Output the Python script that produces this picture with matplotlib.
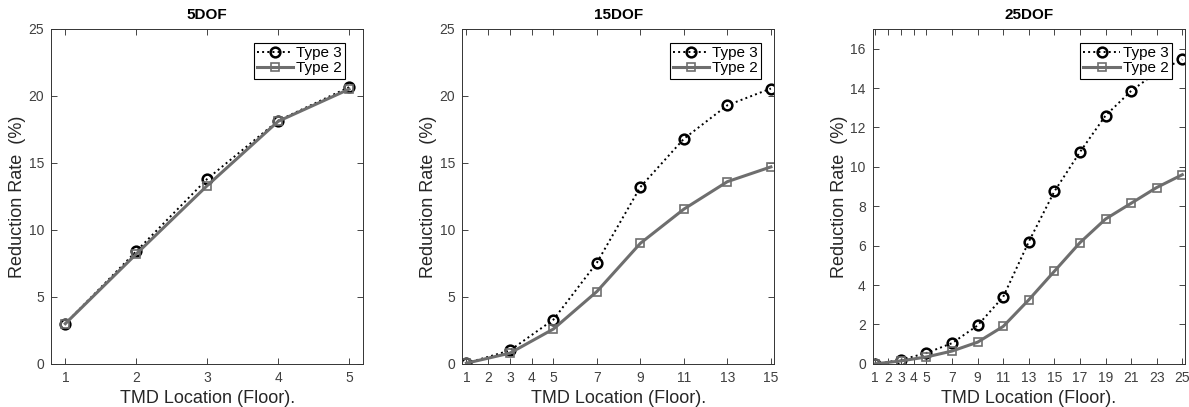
import numpy as np
import matplotlib
matplotlib.use("Agg")
import matplotlib.pyplot as plt

plt.rcParams['font.family'] = ['Liberation Sans', 'DejaVu Sans']

# --- data ---
titles = ["5DOF", "15DOF", "25DOF"]

x5 = [1, 2, 3, 4, 5]
t3_5 = [3.0, 8.4, 13.8, 18.15, 20.65]
t2_5 = [3.0, 8.2, 13.3, 18.1, 20.5]
ticks5 = [1, 2, 3, 4, 5]

x15 = [1, 3, 5, 7, 9, 11, 13, 15]
t3_15 = [0.05, 1.0, 3.3, 7.55, 13.2, 16.8, 19.3, 20.55]
t2_15 = [0.05, 0.8, 2.6, 5.4, 9.0, 11.55, 13.6, 14.7]
ticks15 = [1, 2, 3, 4, 5, 7, 9, 11, 13, 15]

x25 = [1, 3, 5, 7, 9, 11, 13, 15, 17, 19, 21, 23, 25]
t3_25 = [0.0, 0.2, 0.55, 1.05, 1.95, 3.4, 6.2, 8.75, 10.75, 12.6, 13.85, 14.8, 15.45]
t2_25 = [0.0, 0.15, 0.35, 0.65, 1.1, 1.9, 3.25, 4.7, 6.15, 7.35, 8.15, 8.95, 9.6]
ticks25 = [1, 2, 3, 4, 5, 7, 9, 11, 13, 15, 17, 19, 21, 23, 25]

panels = [
    (x5, t3_5, t2_5, ticks5, (0.8, 5.2), (0, 25), np.arange(0, 26, 5)),
    (x15, t3_15, t2_15, ticks15, (0.8, 15.15), (0, 25), np.arange(0, 26, 5)),
    (x25, t3_25, t2_25, ticks25, (0.8, 25.2), (0, 17), np.arange(0, 17, 2)),
]

lefts = [0.043, 0.3886, 0.734]
leg_inset = [18, 13, 13]   # px from right edge of axes
fig = plt.figure(figsize=(11.89, 4.07), dpi=100)

txt = '#262626'
gray = '#6e6e6e'

for i, (x, t3, t2, ticks, xl, yl, yt) in enumerate(panels):
    ax = fig.add_axes([lefts[i], 0.106, 0.2625, 0.823])
    ax.plot(x, t3, color='black', linestyle=':', linewidth=1.4, marker='o',
            markersize=7, markerfacecolor='none', markeredgewidth=1.8, label='Type 3')
    ax.plot(x, t2, color=gray, linestyle='-', linewidth=2.2, marker='s',
            markersize=6, markerfacecolor='none', markeredgewidth=1.2, label='Type 2')
    ax.set_xlim(*xl)
    ax.set_ylim(*yl)
    ax.set_xticks(ticks)
    ax.set_yticks(yt)
    ax.tick_params(direction='in', top=True, right=True, labelsize=10,
                   colors=txt, labelcolor='#404040', length=4, width=0.6, pad=5)
    for s in ax.spines.values():
        s.set_color('#333333')
        s.set_linewidth(0.7)
    ax.set_title(titles[i], fontsize=11, fontweight='bold', pad=7)
    ax.set_xlabel('TMD Location (Floor).', fontsize=13, color=txt, labelpad=4)
    ax.set_ylabel('Reduction Rate  (%)', fontsize=13, color=txt, labelpad=2)
    w = 312.0
    h = 335.0
    leg = ax.legend(loc='upper right', fontsize=11, fancybox=False,
                    framealpha=1, edgecolor='black', borderpad=0.2,
                    handlelength=2.4, handletextpad=0.2, labelspacing=0.1,
                    borderaxespad=0,
                    bbox_to_anchor=(1 - leg_inset[i] / w, 1 - 14 / h))
    leg.get_frame().set_linewidth(0.8)

fig.savefig('out.png', dpi=100)
